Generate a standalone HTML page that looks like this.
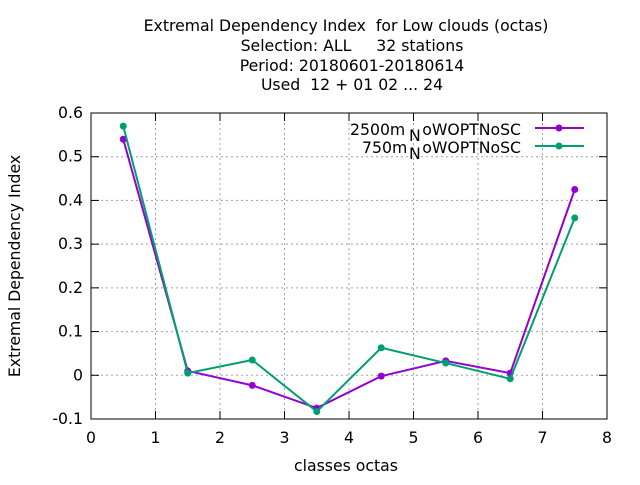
<!DOCTYPE html>
<html><head><meta charset="utf-8"><style>
body{margin:0;background:#fff}
svg text{font-family:"DejaVu Sans","Liberation Sans",sans-serif;font-size:15.7px;fill:#000;white-space:pre}
</style></head><body>
<svg id="chart" width="640" height="480" xmlns="http://www.w3.org/2000/svg" xml:space="preserve">
<g text-anchor="middle">
<text x="346" y="31">Extremal Dependency Index  for Low clouds (octas)</text>
<text x="352" y="51">Selection: ALL     32 stations</text>
<text x="352" y="71">Period: 20180601-20180614</text>
<text x="352" y="90">Used  12 + 01 02 ... 24</text>
</g>
<g id="grid"></g>
<g id="axes"></g>
<text x="20" y="266" text-anchor="middle" transform="rotate(-90 20 266)">Extremal Dependency Index</text>
<text x="346" y="471" text-anchor="middle">classes octas</text>
<g id="series"></g>
<g>
<text x="350" y="135">2500m</text>
<text x="409" y="141">N</text>
<text x="521" y="135" text-anchor="end">oWOPTNoSC</text>
<text x="362" y="153">750m</text>
<text x="409" y="159">N</text>
<text x="521" y="153" text-anchor="end">oWOPTNoSC</text>
<line x1="535" y1="128" x2="584" y2="128" stroke="#9400d3" stroke-width="2"/>
<circle cx="559" cy="128" r="3.5" fill="#9400d3"/>
<line x1="535" y1="146" x2="584" y2="146" stroke="#009e73" stroke-width="2"/>
<circle cx="559" cy="146" r="3.5" fill="#009e73"/>
</g>
</svg>
<script>
const xTicks=[0,1,2,3,4,5,6,7,8];
const yTicks=[-0.1,0,0.1,0.2,0.3,0.4,0.5,0.6];
const yLabels=["-0.1","0","0.1","0.2","0.3","0.4","0.5","0.6"];
const classes=[0.5,1.5,2.5,3.5,4.5,5.5,6.5,7.5];
const s2500=[0.54,0.01,-0.023,-0.075,-0.002,0.033,0.005,0.425];
const s750=[0.57,0.005,0.035,-0.083,0.063,0.028,-0.008,0.36];
const L=91,R=607,T=113,B=419;
const xs=v=>L+(v-0)/8*(R-L);
const ys=v=>B-(v+0.1)/0.7*(B-T);
const NS="http://www.w3.org/2000/svg";
function mk(t,a,p){const e=document.createElementNS(NS,t);for(const k in a)e.setAttribute(k,a[k]);p.appendChild(e);return e;}
const grid=document.getElementById('grid'),axes=document.getElementById('axes'),ser=document.getElementById('series');
xTicks.forEach(v=>{const x=xs(v);
 if(v>0&&v<8){const g=mk('line',{x1:x,x2:x,y1:T,y2:B,stroke:'#a0a0a0','stroke-dasharray':'2,3'},grid);}
 mk('line',{x1:x,x2:x,y1:B,y2:B-8,stroke:'#000'},axes);mk('line',{x1:x,x2:x,y1:T,y2:T+8,stroke:'#000'},axes);
 const t=mk('text',{x:x,y:B+24,'text-anchor':'middle'},axes);t.textContent=v;
 });
yTicks.forEach((v,i)=>{const y=ys(v);
 if(i>0&&i<yTicks.length-1){const g=mk('line',{x1:L,x2:R,y1:y,y2:y,stroke:'#a0a0a0','stroke-dasharray':'2,3'},grid);}
 mk('line',{x1:L,x2:L+8,y1:y,y2:y,stroke:'#000'},axes);mk('line',{x1:R,x2:R-8,y1:y,y2:y,stroke:'#000'},axes);
 const t=mk('text',{x:L-8,y:y+5,'text-anchor':'end'},axes);t.textContent=yLabels[i];
 });
mk('rect',{x:L,y:T,width:R-L,height:B-T,fill:'none',stroke:'#000'},axes);
[[s2500,'#9400d3','series-2500m'],[s750,'#009e73','series-750m']].forEach(([d,c,n])=>{
 const pts=d.map((v,i)=>xs(classes[i])+','+ys(v)).join(' ');
 const pl=mk('polyline',{points:pts,fill:'none',stroke:c,'stroke-width':2},ser);
 
 d.forEach((v,i)=>{const r=mk('circle',{cx:xs(classes[i]),cy:ys(v),r:3.5,fill:c},ser);
  });
});
</script>
</body></html>
